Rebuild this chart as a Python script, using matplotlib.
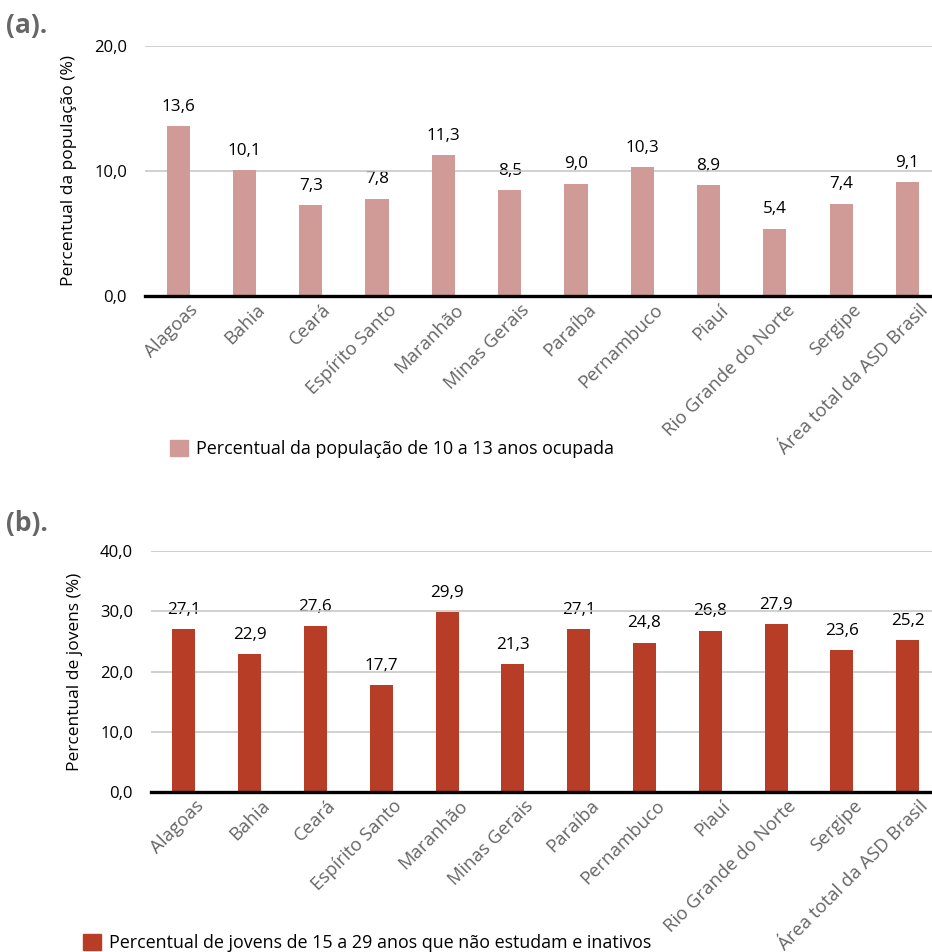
import matplotlib
matplotlib.use("Agg")
import matplotlib.pyplot as plt
from matplotlib.patches import Patch
from matplotlib.transforms import ScaledTranslation

plt.rcParams['font.family'] = ['Open Sans', 'DejaVu Sans']

# data
estados = ["Alagoas", "Bahia", "Ceará", "Espírito Santo", "Maranhão", "Minas Gerais",
           "Paraíba", "Pernambuco", "Piauí", "Rio Grande do Norte", "Sergipe",
           "Área total da ASD Brasil"]
ocupada_10_13 = [13.6, 10.1, 7.3, 7.8, 11.3, 8.5, 9.0, 10.3, 8.9, 5.4, 7.4, 9.1]
jovens_inativos = [27.1, 22.9, 27.6, 17.7, 29.9, 21.3, 27.1, 24.8, 26.8, 27.9, 23.6, 25.2]

ticks_a = [0, 10, 20]
ticks_b = [0, 10, 20, 30, 40]

cor_a = "#D09A96"
cor_b = "#B83D26"
cinza = "#666666"

W, H = 932, 952
fig = plt.figure(figsize=(W / 100, H / 100), dpi=100)


def fmt(v):
    return f"{v:.1f}".replace(".", ",")


def painel(rect, vals, ticks, cor, ylabel, leg_txt, leg_xy, letra, letra_xy):
    ax = fig.add_axes(rect)
    x = range(len(vals))
    ax.bar(x, vals, width=0.35, color=cor, zorder=2)
    ax.set_xlim(-0.5, 11.37)
    ax.set_ylim(ticks[0], ticks[-1])
    ax.set_yticks(ticks)
    ax.set_yticklabels([fmt(t) for t in ticks], fontsize=12)
    ax.tick_params(axis='y', length=0, pad=13)
    ax.tick_params(axis='x', length=0)
    ax.grid(axis='y', color="#c8c8c8", linewidth=1.2, zorder=0)
    for s in ["top", "right", "left"]:
        ax.spines[s].set_visible(False)
    ax.spines["bottom"].set_linewidth(2.4)
    ax.spines["bottom"].set_zorder(3)
    ax.set_xticks(list(x))
    ax.set_xticklabels(estados, rotation=45, ha='right', va='top',
                       rotation_mode='anchor', color=cinza, fontsize=13.3)
    for lab in ax.get_xticklabels():
        lab.set_transform(lab.get_transform() +
                          ScaledTranslation(8 / 72, 0 / 72, fig.dpi_scale_trans))
    for xi, v in zip(x, vals):
        ax.annotate(fmt(v), (xi, v), xytext=(0, 8), textcoords='offset points',
                    ha='center', va='bottom', fontsize=12.3, zorder=1)
    ax.set_ylabel(ylabel, fontsize=12.5, labelpad=12)
    fig.legend(handles=[Patch(color=cor)], labels=[leg_txt], loc='center left',
               bbox_to_anchor=leg_xy, frameon=False, fontsize=12.9,
               handlelength=1.0, handleheight=1.0, handletextpad=0.45)
    fig.text(letra_xy[0], letra_xy[1], letra, fontsize=19, fontweight='bold',
             color=cinza, ha='left', va='center')
    return ax


painel([145 / W, 1 - 296 / H, (W - 145) / W, 250 / H], ocupada_10_13, ticks_a, cor_a,
       "Percentual da população (%)", "Percentual da população de 10 a 13 anos ocupada",
       (154 / W, 1 - 449 / H), "(a).", (6 / W, 1 - 25 / H))

painel([151 / W, 1 - 792 / H, (W - 151) / W, 241 / H], jovens_inativos, ticks_b, cor_b,
       "Percentual de jovens (%)", "Percentual de jovens de 15 a 29 anos que não estudam e inativos",
       (67 / W, 1 - 943 / H), "(b).", (6 / W, 1 - 524 / H))

fig.savefig("out.png", dpi=100)
